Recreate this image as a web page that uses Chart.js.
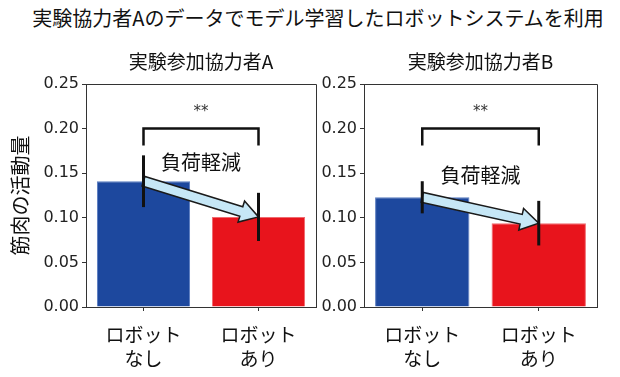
<!DOCTYPE html>
<html>
<head>
<meta charset="utf-8">
<script src="https://cdn.jsdelivr.net/npm/chart.js@4.4.0/dist/chart.umd.min.js"></script>
<style>
  body { margin: 0; background: #fff; width: 620px; height: 377px; overflow: hidden; position: relative; font-family: "Noto Sans CJK JP", sans-serif; }
  #title { position: absolute; left: 8px; top: 4px; width: 620px; text-align: center; font-size: 20px; color: #111; line-height: 28px; }
  #wrapA { position: absolute; left: 0; top: 0; width: 318px; height: 377px; }
  #wrapB { position: absolute; left: 318px; top: 0; width: 302px; height: 377px; }
</style>
</head>
<body>
<div id="title">実験協力者Aのデータでモデル学習したロボットシステムを利用</div>
<div id="wrapA"><canvas id="chartA"></canvas></div>
<div id="wrapB"><canvas id="chartB"></canvas></div>
<script>
// data
const categories = [["ロボット", "なし"], ["ロボット", "あり"]];
const subtitles = ["実験参加協力者A", "実験参加協力者B"];
const yTicks = [0, 0.05, 0.10, 0.15, 0.20, 0.25];
const meanA = [0.141, 0.101];
const errA = [0.029, 0.027];
const meanB = [0.123, 0.094];
const errB = [0.018, 0.025];
const bracketTop = 0.20;
const bracketFoot = 0.181;
const starsY = 0.222;
const noteText = "負荷軽減";
const noteY = [0.162, 0.148];

const jpFont = '"Noto Sans CJK JP", sans-serif';
const tickFont = '"DejaVu Sans", sans-serif';
const barColors = ['#1d489e', '#e8141c'];
const barEdges = ['#5a7cc0', '#f06a6f'];

// draws frame, error bars, bracket, arrow and texts from the chart scales
const annotPlugin = {
  id: 'annot',
  afterDatasetsDraw(chart, args, opts) {
    const ctx = chart.ctx;
    const xs = chart.scales.x, ys = chart.scales.y;
    const area = chart.chartArea;
    const x0 = xs.getPixelForValue(0), x1 = xs.getPixelForValue(1);
    const means = opts.means, errs = opts.errs;
    ctx.save();

    // top and right spines
    ctx.strokeStyle = '#333';
    ctx.lineWidth = 1;
    ctx.beginPath();
    ctx.moveTo(area.left, area.top + 0.5);
    ctx.lineTo(area.right + 0.5, area.top + 0.5);
    ctx.lineTo(area.right + 0.5, area.bottom);
    ctx.stroke();

    // arrow from bar top to bar top
    const p0 = { x: x0, y: ys.getPixelForValue(means[0]) };
    const p1 = { x: x1, y: ys.getPixelForValue(means[1]) };
    const dx = p1.x - p0.x, dy = p1.y - p0.y;
    const len = Math.hypot(dx, dy);
    const ux = dx / len, uy = dy / len;
    const nx = -uy, ny = ux;
    const w = 5, h = 11, L = 18;
    const bx = p1.x - ux * L, by = p1.y - uy * L;
    ctx.beginPath();
    ctx.moveTo(p0.x + nx * w, p0.y + ny * w);
    ctx.lineTo(bx + nx * w, by + ny * w);
    ctx.lineTo(bx + nx * h, by + ny * h);
    ctx.lineTo(p1.x, p1.y);
    ctx.lineTo(bx - nx * h, by - ny * h);
    ctx.lineTo(bx - nx * w, by - ny * w);
    ctx.lineTo(p0.x - nx * w, p0.y - ny * w);
    ctx.closePath();
    ctx.fillStyle = '#c6e7f6';
    ctx.fill();
    ctx.strokeStyle = '#1a1a1a';
    ctx.lineWidth = 1.5;
    ctx.stroke();

    // error bars
    ctx.strokeStyle = '#111';
    ctx.lineWidth = 3;
    [x0, x1].forEach((x, i) => {
      ctx.beginPath();
      ctx.moveTo(x, ys.getPixelForValue(means[i] - errs[i]));
      ctx.lineTo(x, ys.getPixelForValue(means[i] + errs[i]));
      ctx.stroke();
    });

    // significance bracket
    ctx.lineWidth = 2.5;
    ctx.lineJoin = 'miter';
    ctx.beginPath();
    ctx.moveTo(x0, ys.getPixelForValue(bracketFoot));
    ctx.lineTo(x0, ys.getPixelForValue(bracketTop));
    ctx.lineTo(x1, ys.getPixelForValue(bracketTop));
    ctx.lineTo(x1, ys.getPixelForValue(bracketFoot));
    ctx.stroke();

    const xm = (x0 + x1) / 2;
    ctx.fillStyle = '#333';
    ctx.textAlign = 'center';
    ctx.textBaseline = 'middle';
    ctx.font = '15px ' + tickFont;
    ctx.fillText('**', xm, ys.getPixelForValue(starsY) + 3);

    ctx.fillStyle = '#111';
    ctx.font = '20px ' + jpFont;
    ctx.fillText(noteText, xm, ys.getPixelForValue(opts.noteY));

    // panel subtitle
    ctx.font = '19px ' + jpFont;
    ctx.fillText(opts.subtitle, (area.left + area.right) / 2, 62);
    ctx.restore();
  }
};

function makeChart(id, means, errs, sub, nY, yWidth, padRight, showTitle) {
  return new Chart(document.getElementById(id), {
    type: 'bar',
    data: {
      labels: categories,
      datasets: [{
        data: means,
        backgroundColor: barColors,
        borderColor: barEdges,
        borderWidth: 1,
        barPercentage: 0.81,
        categoryPercentage: 1.0
      }]
    },
    options: {
      responsive: true,
      maintainAspectRatio: false,
      animation: false,
      layout: { padding: { top: 84, right: padRight, left: 0, bottom: 0 } },
      plugins: {
        legend: { display: false },
        tooltip: { enabled: false },
        annot: { means: means, errs: errs, subtitle: sub, noteY: nY }
      },
      scales: {
        x: {
          offset: true,
          grid: { display: true, drawOnChartArea: false, tickLength: 4, color: '#333', offset: false },
          border: { display: true, color: '#333', width: 1 },
          ticks: { color: '#111', font: { family: jpFont, size: 19, lineHeight: 1.25 }, padding: 12, maxRotation: 0 },
          afterFit: (s) => { s.height = 70; }
        },
        y: {
          min: 0,
          max: 0.25,
          afterBuildTicks: (s) => { s.ticks = yTicks.map(v => ({ value: v })); },
          grid: { display: true, drawOnChartArea: false, tickLength: 4, color: '#333' },
          border: { display: true, color: '#333', width: 1 },
          ticks: { color: '#222', font: { family: tickFont, size: 16 }, padding: 3,
                   callback: (v) => Number(v).toFixed(2) },
          title: { display: showTitle, text: '筋肉の活動量', color: '#111',
                   font: { family: jpFont, size: 20, lineHeight: 1.2 }, padding: { top: 8, bottom: 0 } },
          afterFit: (s) => { s.width = yWidth; }
        }
      }
    },
    plugins: [annotPlugin]
  });
}

makeChart('chartA', meanA, errA, subtitles[0], noteY[0], 86, 2, true);
makeChart('chartB', meanB, errB, subtitles[1], noteY[1], 46, 23, false);
</script>
</body>
</html>
